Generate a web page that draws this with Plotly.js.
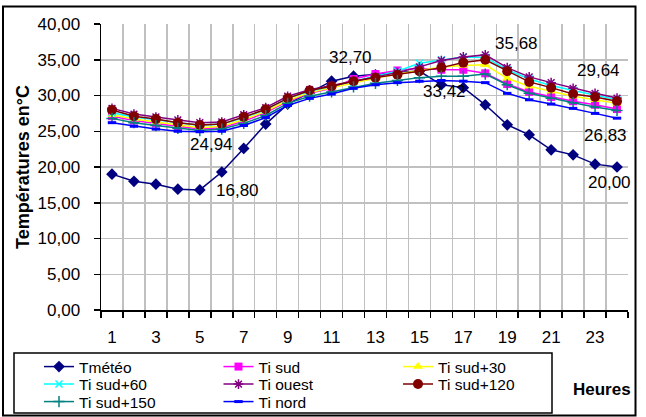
<!DOCTYPE html>
<html>
<head>
<meta charset="utf-8">
<script src="https://cdn.plot.ly/plotly-3.0.1.min.js"></script>
<style>
  html, body { margin: 0; padding: 0; background: #ffffff; }
  #chart { width: 646px; height: 417px; }
</style>
</head>
<body>
<div id="chart"></div>
<script>
// Hourly temperatures (°C) for outdoor air and indoor rooms by orientation
const hours = [1, 2, 3, 4, 5, 6, 7, 8, 9, 10, 11, 12, 13, 14, 15, 16, 17, 18, 19, 20, 21, 22, 23, 24];
const hourTickVals = [1, 3, 5, 7, 9, 11, 13, 15, 17, 19, 21, 23];
const hourTickText = ['1', '3', '5', '7', '9', '11', '13', '15', '17', '19', '21', '23'];

const tMeteo   = [19.0, 18.0, 17.6, 16.9, 16.80, 19.3, 22.6, 26.0, 28.8, 30.4, 32.0, 32.70, 32.9, 33.2, 33.42, 31.5, 31.1, 28.7, 25.9, 24.5, 22.4, 21.7, 20.4, 20.00];
const tiSud    = [27.1, 26.5, 26.1, 25.7, 25.3, 25.5, 26.4, 27.6, 29.2, 30.3, 31.0, 32.3, 33.0, 33.5, 33.8, 33.6, 33.6, 33.1, 31.6, 30.5, 29.8, 29.2, 28.7, 28.1];
const tiSud30  = [27.3, 26.7, 26.3, 25.9, 25.5, 25.7, 26.6, 27.8, 29.3, 30.4, 31.1, 31.8, 32.4, 33.0, 33.5, 34.0, 34.2, 34.3, 32.4, 31.3, 30.6, 29.9, 29.4, 28.9];
const tiSud60  = [27.6, 27.0, 26.6, 26.2, 25.8, 26.0, 26.9, 28.0, 29.6, 30.6, 31.3, 31.9, 32.6, 33.4, 34.5, 35.0, 35.4, 35.3, 33.6, 32.3, 31.4, 30.7, 30.0, 29.4];
const tiOuest  = [28.2, 27.4, 27.0, 26.6, 26.2, 26.3, 27.3, 28.3, 29.9, 30.8, 31.4, 32.0, 32.6, 33.2, 34.0, 34.9, 35.4, 35.68, 33.9, 32.6, 31.8, 31.0, 30.3, 29.64];
const tiSud120 = [27.97, 27.1, 26.7, 26.2, 25.87, 26.0, 27.0, 28.07, 29.6, 30.7, 31.3, 32.0, 32.5, 32.9, 33.4, 33.9, 34.6, 35.0, 33.4, 31.9, 31.1, 30.2, 29.8, 29.2];
const tiSud150 = [26.8, 26.2, 25.8, 25.4, 25.1, 25.3, 26.1, 27.2, 28.9, 29.9, 30.5, 31.2, 31.7, 32.1, 32.5, 32.7, 32.7, 33.0, 31.5, 30.3, 29.6, 29.0, 28.4, 27.9];
const tiNord   = [26.2, 25.7, 25.3, 25.0, 24.94, 25.0, 25.8, 26.9, 28.6, 29.6, 30.2, 31.0, 31.5, 31.8, 32.0, 32.1, 32.0, 31.8, 30.3, 29.4, 28.8, 28.2, 27.5, 26.83];

const seriesNames = ['Tmétéo', 'Ti sud', 'Ti sud+30', 'Ti sud+60', 'Ti ouest', 'Ti sud+120', 'Ti sud+150', 'Ti nord'];

const FONT = 'Liberation Sans, Arial, sans-serif';

// plot area in pixels
const L = 101, T = 24, W = 527, H = 286;
const px = v => (v - L) / W;
const py = v => (T + H - v) / H;

const styles = [
  { color: '#000080', symbol: 'diamond', size: 9, lw: 1.5 },
  { color: '#FF00FF', symbol: 'square', size: 8, lw: 1.5 },
  { color: '#FFFF00', symbol: 'triangle-up', size: 9, lw: 1.5 },
  { color: '#00FFFF', symbol: 'x-thin-open', size: 7, lw: 1.5, mlw: 1.5 },
  { color: '#800080', symbol: 'asterisk-open', size: 8, lw: 1.5, mlw: 1.5 },
  { color: '#800000', symbol: 'circle', size: 10, lw: 1.5 },
  { color: '#008080', symbol: 'cross-thin-open', size: 8, lw: 1.5, mlw: 1.5 },
  { color: '#0000FF', symbol: 'line-ew-open', size: 6, lw: 1.5, mlw: 3 }
];
const values = [tMeteo, tiSud, tiSud30, tiSud60, tiOuest, tiSud120, tiSud150, tiNord];
// three rows of the key box
const legendOf = ['legend', 'legend', 'legend', 'legend2', 'legend2', 'legend2', 'legend3', 'legend3'];

const traces = values.map((vals, i) => ({
  type: 'scatter',
  mode: 'lines+markers',
  name: seriesNames[i],
  x: hours,
  y: vals,
  legend: legendOf[i],
  line: { color: styles[i].color, width: styles[i].lw },
  marker: {
    color: styles[i].color,
    symbol: styles[i].symbol,
    size: styles[i].size,
    line: { color: styles[i].color, width: styles[i].mlw || 0 }
  },
  hoverinfo: 'x+y+name'
}));

const fmt = v => v.toFixed(2).replace('.', ',');

// value labels: series index, hour index, offsets
const labelSpecs = [
  { s: 7, h: 4, xs: 12, ys: -13, xa: 'center' },
  { s: 0, h: 4, xs: 14, ys: -1, xa: 'left' },
  { s: 0, h: 11, xs: -3, ys: 19, xa: 'center' },
  { s: 0, h: 14, xs: 25, ys: -20, xa: 'center' },
  { s: 4, h: 17, xs: 8, ys: 11, xa: 'left' },
  { s: 4, h: 23, xs: 5, ys: 28, xa: 'right' },
  { s: 7, h: 23, xs: -12, ys: -17, xa: 'center' },
  { s: 0, h: 23, xs: -8, ys: -15, xa: 'center' }
];
const annotations = labelSpecs.map(a => ({
  x: hours[a.h], y: values[a.s][a.h], xref: 'x', yref: 'y',
  text: fmt(values[a.s][a.h]), showarrow: false,
  xanchor: a.xa, yanchor: 'middle', xshift: a.xs, yshift: a.ys,
  font: { family: FONT, size: 17, color: '#000000' }
}));
annotations.push({
  x: px(602), y: py(389), xref: 'paper', yref: 'paper',
  text: '<b>Heures</b>', showarrow: false, xanchor: 'center', yanchor: 'middle',
  font: { family: FONT, size: 17, color: '#000000' }
});

const legendBase = {
  orientation: 'h', xanchor: 'left', yanchor: 'middle',
  x: px(39), bgcolor: 'rgba(0,0,0,0)', borderwidth: 0,
  entrywidth: 134.5, entrywidthmode: 'pixels',
  font: { family: FONT, size: 15.5, color: '#000000' },
  itemclick: false, itemdoubleclick: false
};

const layout = {
  width: 646, height: 417,
  margin: { l: L, r: 646 - L - W, t: T, b: 417 - T - H, pad: 0, autoexpand: false },
  paper_bgcolor: '#ffffff', plot_bgcolor: '#ffffff',
  separators: ', ',
  font: { family: FONT, size: 17, color: '#000000' },
  showlegend: true,
  legend:  Object.assign({}, legendBase, { y: py(367) }),
  legend2: Object.assign({}, legendBase, { y: py(384.5) }),
  legend3: Object.assign({}, legendBase, { y: py(402) }),
  xaxis: {
    range: [0.5, 24.5], fixedrange: true,
    tickmode: 'array', tickvals: hourTickVals, ticktext: hourTickText,
    ticks: '', showgrid: false, zeroline: false,
    showline: true, linecolor: '#000000', linewidth: 1.5,
    ticklabelstandoff: 11,
    tickfont: { family: FONT, size: 17 },
    minor: {
      tickmode: 'linear', tick0: 0.5, dtick: 1,
      ticks: 'outside', ticklen: 6, tickcolor: '#000000', tickwidth: 1.5,
      showgrid: true, gridcolor: '#c0c0c0', gridwidth: 1.5
    }
  },
  yaxis: {
    range: [0, 40], dtick: 5, tick0: 0, fixedrange: true,
    tickformat: '.2f',
    ticks: 'outside', ticklen: 6, tickcolor: '#000000', tickwidth: 1.5,
    showgrid: true, gridcolor: '#c0c0c0', gridwidth: 1.5, zeroline: false,
    showline: true, linecolor: '#000000', linewidth: 1.5,
    ticklabelstandoff: 10,
    tickfont: { family: FONT, size: 17 },
    title: { text: '<b>Températures en°C</b>', font: { family: FONT, size: 18 }, standoff: 3 }
  },
  annotations: annotations,
  shapes: [
    // outer frame of the chart
    { type: 'rect', xref: 'paper', yref: 'paper', x0: px(3), x1: px(635.5), y0: py(415.5), y1: py(6.5),
      line: { color: '#000000', width: 2 }, fillcolor: 'rgba(0,0,0,0)', layer: 'above' },
    // key box
    { type: 'rect', xref: 'paper', yref: 'paper', x0: px(14), x1: px(552), y0: py(413), y1: py(353),
      line: { color: '#000000', width: 1.5 }, fillcolor: 'rgba(0,0,0,0)', layer: 'above' }
  ]
};

Plotly.newPlot('chart', traces, layout, { displayModeBar: false, staticPlot: true });
</script>
</body>
</html>
